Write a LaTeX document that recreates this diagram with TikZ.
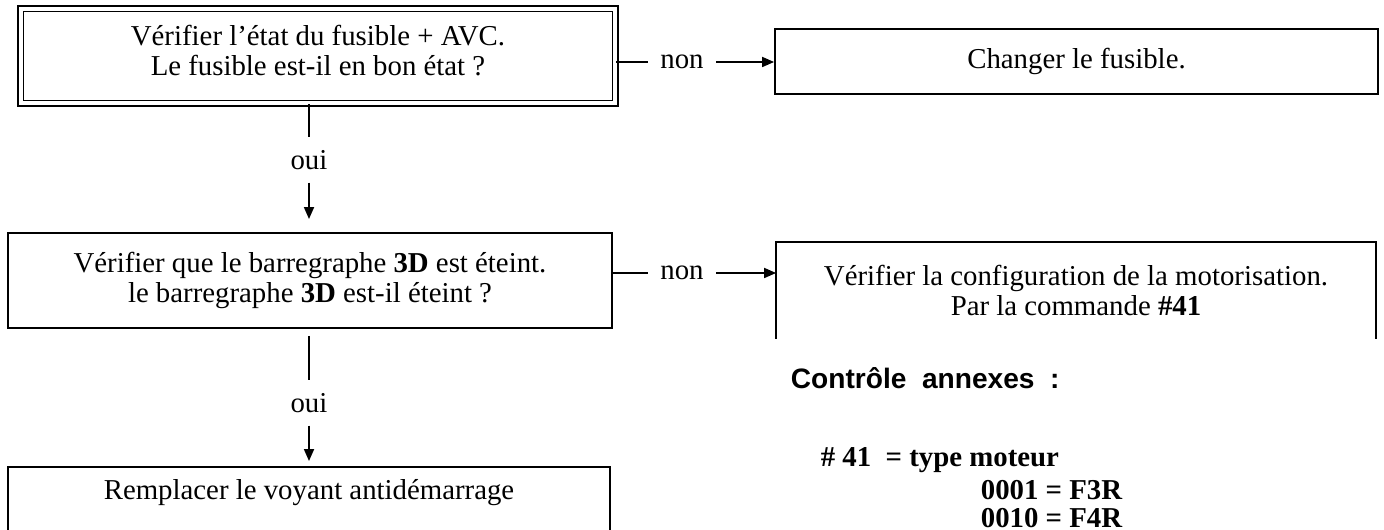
\documentclass[tikz,border=0pt]{standalone}
\usepackage{fontspec}
\setmainfont{Liberation Serif}
\setsansfont{Liberation Sans}
\usetikzlibrary{arrows.meta,positioning}

\begin{document}
\begin{tikzpicture}[x=0.02cm, y=-0.02cm, line width=1pt, font=\fontsize{16.4}{17.4}\selectfont]
\tikzstyle{box}=[draw, line width=1.1pt, align=center, inner sep=0pt]
\tikzstyle{dbox}=[box, double, double distance=0.08cm, line width=0.8pt]
\tikzstyle{lbl}=[inner sep=0.24cm]
\tikzstyle{note}=[anchor=west, inner sep=0pt, font=\fontsize{16.4}{17.4}\selectfont\bfseries]
\tikzstyle{arr}=[-{Triangle[length=0.24cm, width=0.2cm]}]

\useasboundingbox (0,0) rectangle (1384,530);
\clip (0,0) rectangle (1384,530);

% left column
\node[dbox, minimum width=11.9cm, minimum height=1.9cm, text depth=0.22cm] (fuse) at (318,56) {V\'erifier l'\'etat du fusible + AVC.\\Le fusible est-il en bon \'etat ?};
\node[box, minimum width=12.08cm, minimum height=1.9cm] (bar) at (310,280.5) {V\'erifier que le barregraphe \textbf{3D} est \'eteint.\\le barregraphe \textbf{3D} est-il \'eteint ?};
\node[box, minimum width=12.04cm, minimum height=1.9cm, text height=0.4cm, text depth=1.0cm] (lamp) at (309,514.5) {Remplacer le voyant antid\'emarrage};

% right column
\node[box, minimum width=12.06cm, minimum height=1.3cm] (swap) at (1076.5,61.5) {Changer le fusible.};
\node[box, draw=none, minimum width=11.96cm, minimum height=1.9cm] (conf) at (1076,290.5) {V\'erifier la configuration de la motorisation.\\Par la commande \textbf{\#41}};
\draw[line width=1.1pt] (conf.south west) -- (conf.north west) -- (conf.north east) -- (conf.south east);

% branches
\node[lbl] (no1) at (682,62) {non};
\draw (fuse.east |- no1) -- (no1);
\draw[arr] (no1) -- (swap.west |- no1);
\node[lbl] (no2) at (682,273) {non};
\draw (bar.east |- no2) -- (no2);
\draw[arr] (no2) -- (conf.west |- no2);

\node[lbl] (yes1) at (309,160) {oui};
\draw (fuse.south -| yes1) -- (yes1);
\draw[arr, shorten >=0.26cm] (yes1) -- (bar.north -| yes1);
\node[lbl] (yes2) at (309,403) {oui};
\draw[shorten <=0.14cm] (bar.south -| yes2) -- (yes2);
\draw[arr, shorten >=0.1cm] (yes2) -- (lamp.north -| yes2);

% annexes
\node[note, font=\fontsize{16}{17}\selectfont\sffamily\bfseries] (annex) at (790,378) {Contr\^ole\ \ annexes\ \ :};
\node[note] (cmd) at (820,460) {\# 41\ \ = type moteur};
\node[note] (f3r) at (980,490) {0001 = F3R};
\node[note] (f4r) at (980,518) {0010 = F4R};
\end{tikzpicture}
\end{document}
